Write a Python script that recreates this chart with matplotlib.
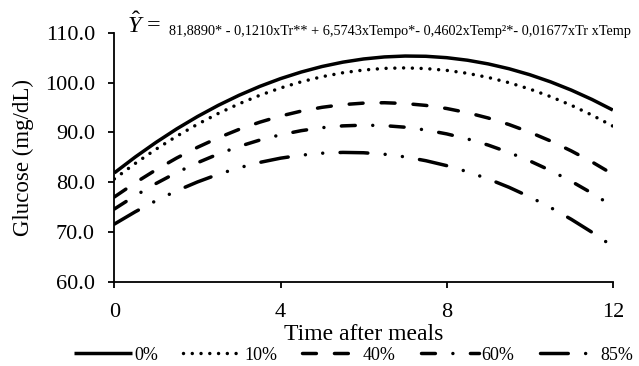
import matplotlib
matplotlib.use("Agg")
import matplotlib.pyplot as plt

plt.rcParams['font.family'] = ['Liberation Serif', 'DejaVu Serif']
plt.rcParams['mathtext.fontset'] = 'custom'
plt.rcParams['mathtext.rm'] = 'Liberation Serif'
plt.rcParams['mathtext.it'] = 'Liberation Serif:italic'
plt.rcParams['lines.scale_dashes'] = False

# hours after meal
time_h = [0, 0.5, 1, 1.5, 2, 2.5, 3, 3.5, 4, 4.5, 5, 5.5, 6, 6.5, 7, 7.5,
          8, 8.5, 9, 9.5, 10, 10.5, 11, 11.5, 12]

g_0 = [81.89, 85.06, 88.00, 90.72, 93.20, 95.45, 97.47, 99.26, 100.82, 102.15,
       103.26, 104.13, 104.77, 105.18, 105.36, 105.31, 105.03, 104.52, 103.78,
       102.81, 101.61, 100.18, 98.52, 96.63, 94.51]
g_10 = [80.68, 83.77, 86.63, 89.25, 91.65, 93.82, 95.76, 97.47, 98.94, 100.19,
        101.21, 102.00, 102.55, 102.88, 102.98, 102.84, 102.48, 101.89, 101.06,
        100.01, 98.73, 97.21, 95.47, 93.49, 91.29]
g_40 = [77.05, 79.89, 82.49, 84.87, 87.02, 88.93, 90.62, 92.07, 93.30, 94.30,
        95.06, 95.60, 95.90, 95.98, 95.82, 95.44, 94.82, 93.98, 92.91, 91.60,
        90.06, 88.30, 86.30, 84.08, 81.62]
g_60 = [74.63, 77.30, 79.74, 81.95, 83.92, 85.67, 87.19, 88.48, 89.54, 90.37,
        90.97, 91.33, 91.47, 91.38, 91.06, 90.50, 89.72, 88.71, 87.47, 85.99,
        84.29, 82.36, 80.19, 77.80, 75.18]
g_85 = [71.60, 74.06, 76.29, 78.29, 80.06, 81.60, 82.91, 83.99, 84.84, 85.45,
        85.84, 86.00, 85.93, 85.63, 85.10, 84.33, 83.34, 82.12, 80.67, 78.99,
        77.07, 74.93, 72.56, 69.95, 67.12]

labels = ['0%', '10%', '40%', '60%', '85%']
series = [g_0, g_10, g_40, g_60, g_85]

# dash patterns in points (scale_dashes off)
styles = [
    None,
    (0, (0.01, 6.3)),
    (0, (10.0, 13.0)),
    (0, (10.0, 12.6, 0.01, 12.6)),
    (0, (20.0, 12.5, 0.01, 12.5, 0.01, 12.5)),
]

fig = plt.figure(figsize=(6.39, 3.66), dpi=100)
ax = fig.add_axes([0.179, 0.230, 0.780, 0.680])

for y, lab, ls in zip(series, labels, styles):
    if ls is None:
        ax.plot(time_h, y, color='black', lw=2.5, label=lab, solid_capstyle='butt')
    else:
        ax.plot(time_h, y, color='black', lw=2.5, linestyle=ls, label=lab,
                dash_capstyle='round')

ax.set_xlim(0, 12)
ax.set_ylim(60, 110)
ax.set_xticks([0, 4, 8, 12])
ax.set_yticks([60, 70, 80, 90, 100, 110])
ax.set_yticklabels(['%.1f' % v for v in [60, 70, 80, 90, 100, 110]])
ax.spines['top'].set_visible(False)
ax.spines['right'].set_visible(False)
for s in ['left', 'bottom']:
    ax.spines[s].set_linewidth(1.3)
ax.tick_params(axis='both', direction='out', length=4.5, width=1.3,
               labelsize=16)
ax.tick_params(axis='y', pad=9.5)
ax.tick_params(axis='x', pad=11)

ax.set_xlabel('Time after meals', fontsize=17, labelpad=1.5)
ax.set_ylabel('Glucose (mg/dL)', fontsize=16.5, labelpad=8)

fig.text(0.199, 0.910, r'$\hat{Y}$ =', fontsize=17.5, va='baseline')
fig.text(0.264, 0.905,
         '81,8890* - 0,1210xTr** + 6,5743xTempo*- 0,4602xTemp\u00b2*- 0,01677xTr xTemp',
         fontsize=10.25, va='baseline')

fig.legend(loc='center', bbox_to_anchor=(0.553, 0.03), ncol=5, frameon=False,
           fontsize=13, handlelength=3.2, handletextpad=0.15, columnspacing=1.4,
           borderpad=0)

fig.savefig('out.png', dpi=100)
